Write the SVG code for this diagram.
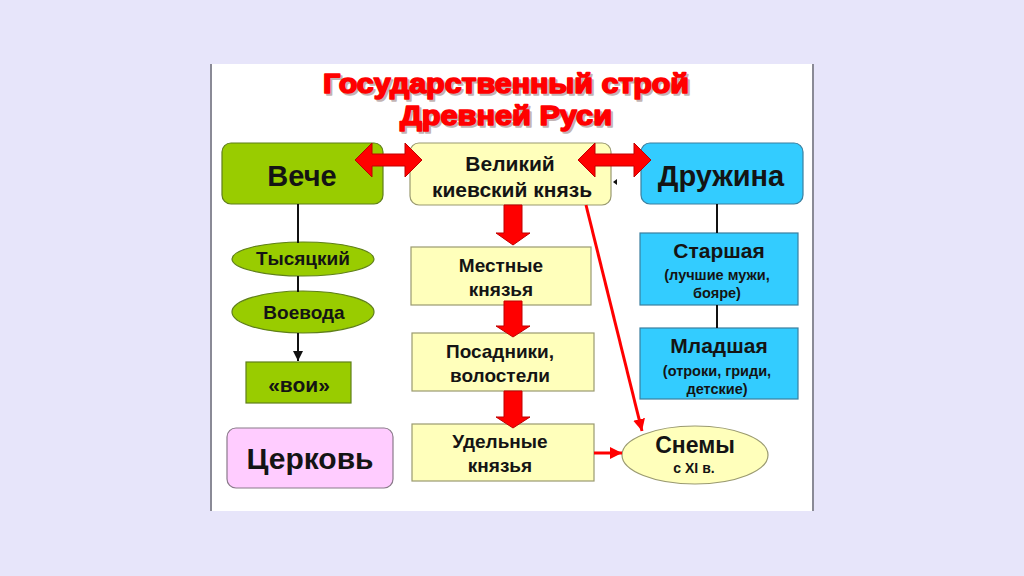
<svg xmlns="http://www.w3.org/2000/svg" width="1024" height="576" viewBox="0 0 1024 576">
<defs>
<style>
text{font-family:"Liberation Sans",Arial,sans-serif;font-weight:bold;fill:#141414;text-anchor:middle}
.title{font-size:27px;fill:#ff0000;stroke:#ff0000;stroke-width:1.6;stroke-linejoin:round}
.shadow{font-size:27px;fill:#7a5a5a;stroke:#7a5a5a;stroke-width:1.6;stroke-linejoin:round;opacity:0.45}
.green{fill:#99cc00;stroke:#5f7f1a;stroke-width:1.2}
.yellow{fill:#ffffbb;stroke:#9a9a70;stroke-width:1.2}
.blue{fill:#33ccff;stroke:#3a7f9f;stroke-width:1.2}
.pink{fill:#ffccff;stroke:#8a7a8a;stroke-width:1.2}
.big{font-size:29px}
.mid{font-size:21px}
.sm{font-size:19px}
.xs{font-size:14.5px}
.blk{stroke:#111;stroke-width:2;fill:none}
.redarrow{fill:#ff0000;stroke:#c00000;stroke-width:1}
.redline{stroke:#ff0000;stroke-width:3;fill:none}
</style>
<marker id="blkhead" viewBox="0 0 10 10" refX="10" refY="5" markerWidth="5" markerHeight="5" orient="auto" markerUnits="strokeWidth">
<path d="M0,0 L10,5 L0,10 z" fill="#111"/>
</marker>
<marker id="redhead" viewBox="0 0 10 10" refX="10" refY="5" markerWidth="4" markerHeight="4" orient="auto" markerUnits="strokeWidth">
<path d="M0,0 L10,5 L0,10 z" fill="#ff0000"/>
</marker>
</defs>
<rect x="0" y="0" width="1024" height="576" fill="#e7e5fa"/>
<rect x="210" y="64" width="603" height="447" fill="#ffffff"/>
<line x1="211" y1="64" x2="211" y2="511" stroke="#8a8a96" stroke-width="2"/>
<line x1="813" y1="64" x2="813" y2="511" stroke="#8a8a96" stroke-width="2"/>

<g id="title">
<text class="shadow" x="508" y="95" textLength="366" lengthAdjust="spacingAndGlyphs">Государственный строй</text>
<text class="shadow" x="508" y="127" textLength="212" lengthAdjust="spacingAndGlyphs">Древней Руси</text>
<text class="title" x="506" y="93" textLength="366" lengthAdjust="spacingAndGlyphs">Государственный строй</text>
<text class="title" x="506" y="125" textLength="212" lengthAdjust="spacingAndGlyphs">Древней Руси</text>
</g>

<g id="veche">
<rect class="green" x="222" y="143" width="161" height="61" rx="9"/>
<text class="big" x="302" y="186">Вече</text>
</g>
<g id="velikiy">
<rect class="yellow" x="410" y="143" width="201" height="62" rx="9"/>
<text class="mid" x="510" y="171">Великий</text>
<text class="mid" x="512" y="197">киевский князь</text>
</g>
<g id="druzhina">
<rect class="blue" x="641" y="143" width="162" height="61" rx="9"/>
<text class="big" x="721" y="186">Дружина</text>
</g>
<g id="tysyatsky">
<ellipse class="green" cx="303" cy="259" rx="71" ry="17"/>
<text class="sm" x="303" y="265">Тысяцкий</text>
</g>
<g id="voevoda">
<ellipse class="green" cx="303" cy="312" rx="71" ry="21"/>
<text class="sm" x="304" y="319">Воевода</text>
</g>
<g id="voi">
<rect class="green" x="246" y="362" width="105" height="41"/>
<text class="mid" x="299" y="392">«вои»</text>
</g>
<g id="tserkov">
<rect class="pink" x="227" y="428" width="166" height="60" rx="9"/>
<text x="310" y="469" style="font-size:30px">Церковь</text>
</g>
<g id="mestnye">
<rect class="yellow" x="411" y="247" width="180" height="58"/>
<text class="sm" x="501" y="272">Местные</text>
<text class="sm" x="501" y="296">князья</text>
</g>
<g id="posadniki">
<rect class="yellow" x="412" y="333" width="182" height="58"/>
<text class="sm" x="500" y="358">Посадники,</text>
<text class="sm" x="500" y="382">волостели</text>
</g>
<g id="udelnye">
<rect class="yellow" x="412" y="424" width="182" height="57"/>
<text class="sm" x="500" y="448">Удельные</text>
<text class="sm" x="500" y="472">князья</text>
</g>
<g id="starshaya">
<rect class="blue" x="640" y="233" width="158" height="72"/>
<text class="mid" x="719" y="258">Старшая</text>
<text class="xs" x="717" y="280">(лучшие мужи,</text>
<text class="xs" x="717" y="298">бояре)</text>
</g>
<g id="mladshaya">
<rect class="blue" x="640" y="328" width="158" height="71"/>
<text class="mid" x="719" y="353">Младшая</text>
<text class="xs" x="717" y="376">(отроки, гриди,</text>
<text class="xs" x="717" y="394">детские)</text>
</g>
<g id="snemy">
<ellipse class="yellow" cx="695" cy="455" rx="73" ry="29"/>
<text x="695" y="453" style="font-size:23px">Снемы</text>
<text x="694" y="473" style="font-size:14px">с XI в.</text>
</g>

<g id="connectors">
<line class="blk" x1="298" y1="204" x2="298" y2="243"/>
<line class="blk" x1="298" y1="276" x2="298" y2="292"/>
<line class="blk" x1="298" y1="333" x2="298" y2="361" marker-end="url(#blkhead)"/>
<line class="blk" x1="717" y1="204" x2="717" y2="233"/>
<line class="blk" x1="717" y1="305" x2="717" y2="328"/>
<polygon class="redarrow" points="355,160 372,143 372,154 405,154 405,143 422,160 405,177 405,166 372,166 372,177"/>
<polygon class="redarrow" points="578,160 595,143 595,154 634,154 634,143 651,160 634,177 634,166 595,166 595,177"/>
<polygon class="redarrow" points="504,205 522,205 522,233 530,233 513,245 496,233 504,233"/>
<polygon class="redarrow" points="504,301 522,301 522,326 530,326 513,337 496,326 504,326"/>
<polygon class="redarrow" points="504,391 522,391 522,417 530,417 513,428 496,417 504,417"/>
<line class="redline" x1="586" y1="205" x2="642" y2="431" marker-end="url(#redhead)"/>
<line class="redline" x1="594" y1="453" x2="622" y2="453" marker-end="url(#redhead)"/>
<path d="M613,182 L617,179 L617,185 z" fill="#111"/>
</g>
</svg>
